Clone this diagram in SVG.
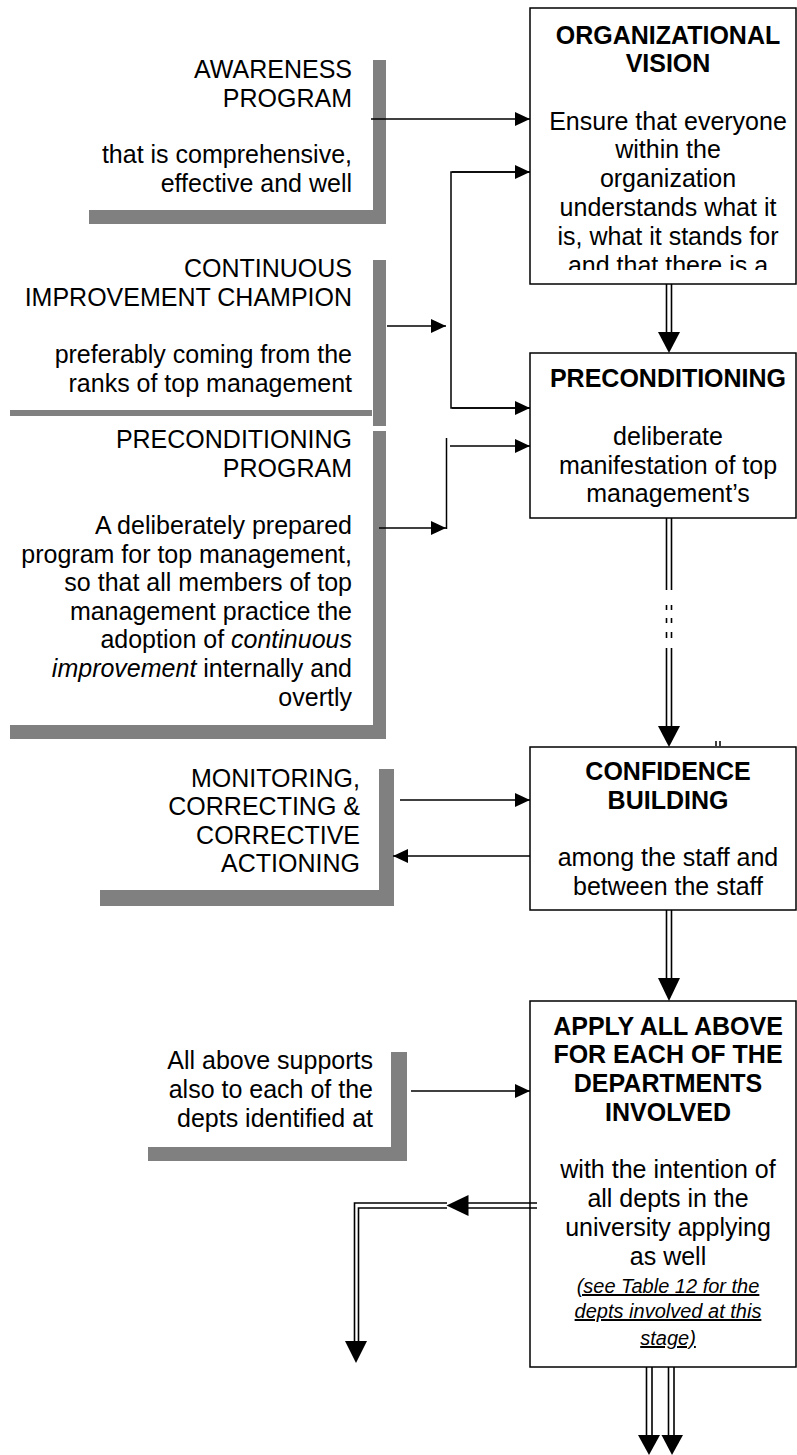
<svg xmlns="http://www.w3.org/2000/svg" width="797" height="1455" viewBox="0 0 797 1455">
  <style>
    .t { font-family: "Liberation Sans", Arial, sans-serif; font-size: 25px; fill: #000; }
    .b { font-weight: bold; }
    .r { text-anchor: end; }
    .c { text-anchor: middle; }
    .i { font-style: italic; }
    .s { font-size: 20px; font-style: italic; text-decoration: underline; }
    .box { fill: #fff; stroke: #000; stroke-width: 1.5; }
    .sh { fill: #808080; }
    .ln { stroke: #000; stroke-width: 1.5; fill: none; }
    .dl { stroke: #000; stroke-width: 1.6; fill: none; }
    .hd { fill: #000; }
  </style>
  <defs>
    <marker id="ah" markerWidth="15" markerHeight="14" refX="15" refY="7" orient="auto" markerUnits="userSpaceOnUse">
      <path d="M0,0 L15,7 L0,14 z" fill="#000"/>
    </marker>
    <clipPath id="clipVision">
      <rect x="530" y="8" width="266" height="262"/>
    </clipPath>
  </defs>
  <rect width="797" height="1455" fill="#fff"/>

  <!-- side panels: text with grey drop shadows -->
  <g id="awareness">
    <rect class="sh" x="373" y="60" width="13" height="164"/>
    <rect class="sh" x="89" y="210" width="297" height="14"/>
    <text class="t r" x="352" y="78">AWARENESS</text>
    <text class="t r" x="352" y="107">PROGRAM</text>
    <text class="t r" x="352" y="163">that is comprehensive,</text>
    <text class="t r" x="352" y="192">effective and well</text>
  </g>

  <g id="champion">
    <rect class="sh" x="373" y="260" width="13" height="166"/>
    <rect class="sh" x="10" y="410" width="362" height="6"/>
    <text class="t r" x="352" y="277">CONTINUOUS</text>
    <text class="t r" x="352" y="306">IMPROVEMENT CHAMPION</text>
    <text class="t r" x="352" y="363">preferably coming from the</text>
    <text class="t r" x="352" y="392">ranks of top management</text>
  </g>

  <g id="precond-program">
    <rect class="sh" x="373" y="431" width="13" height="308"/>
    <rect class="sh" x="10" y="725" width="376" height="14"/>
    <text class="t r" x="352" y="448">PRECONDITIONING</text>
    <text class="t r" x="352" y="477">PROGRAM</text>
    <text class="t r" x="352" y="534">A deliberately prepared</text>
    <text class="t r" x="352" y="563">program for top management,</text>
    <text class="t r" x="352" y="591">so that all members of top</text>
    <text class="t r" x="352" y="620">management practice the</text>
    <text class="t r" x="352" y="648">adoption of <tspan class="i">continuous</tspan></text>
    <text class="t r" x="352" y="677"><tspan class="i">improvement</tspan> internally and</text>
    <text class="t r" x="352" y="706">overtly</text>
  </g>

  <g id="monitoring">
    <rect class="sh" x="379" y="769" width="15" height="137"/>
    <rect class="sh" x="100" y="890" width="294" height="16"/>
    <text class="t r" x="360" y="787">MONITORING,</text>
    <text class="t r" x="360" y="815">CORRECTING &amp;</text>
    <text class="t r" x="360" y="844">CORRECTIVE</text>
    <text class="t r" x="360" y="872">ACTIONING</text>
  </g>

  <g id="supports">
    <rect class="sh" x="391" y="1052" width="16" height="109"/>
    <rect class="sh" x="148" y="1147" width="259" height="14"/>
    <text class="t r" x="373" y="1069">All above supports</text>
    <text class="t r" x="373" y="1098">also to each of the</text>
    <text class="t r" x="373" y="1127">depts identified at</text>
  </g>

  <!-- main column boxes -->
  <g id="vision">
    <rect class="box" x="530" y="8" width="266" height="276"/>
    <g clip-path="url(#clipVision)">
      <text class="t b c" x="668" y="43.5">ORGANIZATIONAL</text>
      <text class="t b c" x="668" y="72">VISION</text>
      <text class="t c" x="668" y="129.5">Ensure that everyone</text>
      <text class="t c" x="668" y="158">within the</text>
      <text class="t c" x="668" y="187">organization</text>
      <text class="t c" x="668" y="215.5">understands what it</text>
      <text class="t c" x="668" y="244.5">is, what it stands for</text>
      <text class="t c" x="668" y="273.5">and that there is a</text>
    </g>
  </g>

  <g id="preconditioning">
    <rect class="box" x="530" y="353" width="266" height="165"/>
    <text class="t b c" x="668" y="387">PRECONDITIONING</text>
    <text class="t c" x="668" y="445">deliberate</text>
    <text class="t c" x="668" y="474">manifestation of top</text>
    <text class="t c" x="668" y="502">management’s</text>
  </g>

  <g id="confidence">
    <rect class="box" x="530" y="747" width="266" height="163"/>
    <text class="t b c" x="668" y="780">CONFIDENCE</text>
    <text class="t b c" x="668" y="809">BUILDING</text>
    <text class="t c" x="668" y="866">among the staff and</text>
    <text class="t c" x="668" y="895">between the staff</text>
  </g>

  <g id="apply">
    <rect class="box" x="530" y="1001" width="266" height="366"/>
    <text class="t b c" x="668" y="1034.5">APPLY ALL ABOVE</text>
    <text class="t b c" x="668" y="1063">FOR EACH OF THE</text>
    <text class="t b c" x="668" y="1092">DEPARTMENTS</text>
    <text class="t b c" x="668" y="1120.5">INVOLVED</text>
    <text class="t c" x="668" y="1178">with the intention of</text>
    <text class="t c" x="668" y="1207">all depts in the</text>
    <text class="t c" x="668" y="1235.5">university applying</text>
    <text class="t c" x="668" y="1264.5">as well</text>
    <text class="t s c" x="668" y="1293">(see Table 12 for the</text>
    <text class="t s c" x="668" y="1318">depts involved at this</text>
    <text class="t s c" x="668" y="1345">stage)</text>
  </g>

  <!-- connectors -->
  <g id="connectors">
    <!-- single-line arrows from the side panels -->
    <line class="ln" x1="371" y1="119" x2="530" y2="119" marker-end="url(#ah)"/>
    <path class="ln" d="M530,172 H451 V408 H530"/>
    <line class="ln" x1="452" y1="172" x2="530" y2="172" marker-end="url(#ah)"/>
    <line class="ln" x1="452" y1="408" x2="530" y2="408" marker-end="url(#ah)"/>
    <line class="ln" x1="387" y1="326" x2="446" y2="326" marker-end="url(#ah)"/>
    <line class="ln" x1="379" y1="528" x2="446" y2="528" marker-end="url(#ah)"/>
    <line class="ln" x1="446.5" y1="438" x2="446.5" y2="529"/>
    <line class="ln" x1="450" y1="446" x2="530" y2="446" marker-end="url(#ah)"/>
    <line class="ln" x1="400" y1="800" x2="530" y2="800" marker-end="url(#ah)"/>
    <line class="ln" x1="530" y1="856" x2="393" y2="856" marker-end="url(#ah)"/>
    <line class="ln" x1="411" y1="1091" x2="530" y2="1091" marker-end="url(#ah)"/>

    <!-- double-line arrows down the main column -->
    <path class="dl" d="M666.5,284 V333 M671.5,284 V333"/>
    <polygon class="hd" points="658,332 680,332 669,353"/>

    <path class="dl" d="M666.5,518 V590 M671.5,518 V590 M666.5,605 V610 M671.5,605 V610 M666.5,618 V623 M671.5,618 V623 M666.5,632 V638 M671.5,632 V638 M666.5,648 V727 M671.5,648 V727"/>
    <polygon class="hd" points="658,726 680,726 669,747"/>
    <path class="ln" d="M716,741 V746 M720,741 V746"/>

    <path class="dl" d="M666.5,910 V979 M671.5,910 V979"/>
    <polygon class="hd" points="658,978 680,978 669,1001"/>

    <!-- double-line arrow out of the left side of the last box -->
    <path class="dl" d="M537,1203 H468 M537,1208 H468"/>
    <polygon class="hd" points="446.5,1205.5 468.5,1195 468.5,1216"/>
    <path class="dl" d="M447,1203 H354.5 V1342 M447,1208 H358.5 V1342"/>
    <polygon class="hd" points="345,1341 367,1341 356,1363"/>

    <!-- two double-line arrows out of the bottom -->
    <path class="dl" d="M646.5,1367 V1436 M652,1367 V1436 M668.5,1367 V1436 M674,1367 V1436"/>
    <polygon class="hd" points="638,1435 660,1435 649,1455"/>
    <polygon class="hd" points="661.5,1435 683,1435 672,1455"/>
  </g>
</svg>
